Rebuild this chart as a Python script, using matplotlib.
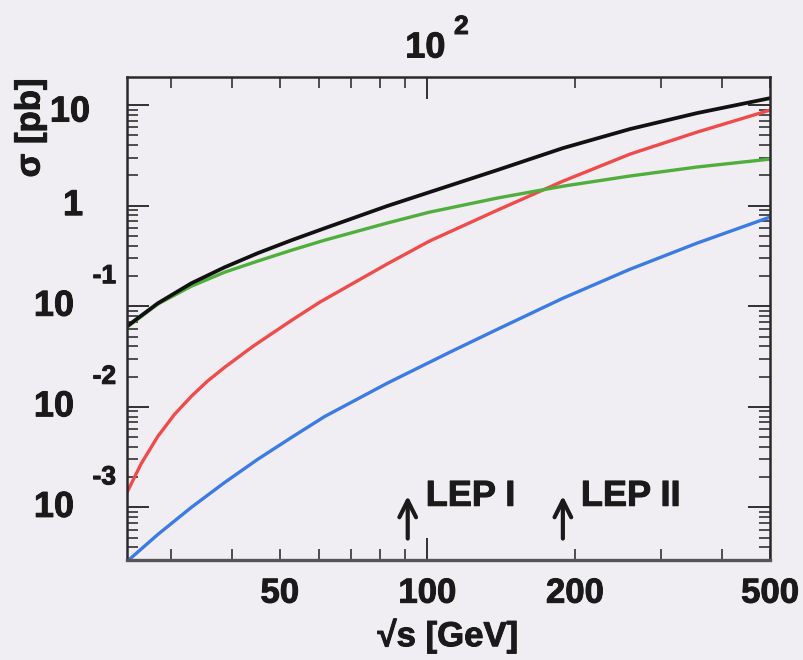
import matplotlib
matplotlib.use("Agg")
from matplotlib import pyplot as plt
from matplotlib import ticker
from matplotlib import patheffects
import matplotlib.transforms as mtransforms

# energias (GeV) e secoes de choque (pb), uma lista por curva
x_black = [24.4, 28.2, 33.0, 38.6, 45.1, 52.9, 61.8, 82.7, 101, 139, 189, 259, 355, 500]
sigma_black = [0.0632, 0.107, 0.169, 0.244, 0.337, 0.454, 0.597, 0.989, 1.36, 2.26, 3.73, 5.77, 8.32, 11.7]

x_green = [24.4, 28.2, 33.0, 38.6, 45.1, 52.9, 61.8, 82.7, 101, 139, 189, 259, 355, 500]
sigma_green = [0.0618, 0.105, 0.158, 0.218, 0.281, 0.361, 0.454, 0.670, 0.861, 1.19, 1.56, 1.97, 2.42, 2.90]

x_red = [24.4, 26.1, 28.2, 30.5, 33.0, 35.6, 38.6, 44.1, 52.9, 60.4, 82.7, 101, 139, 189, 259, 355, 500]
sigma_red = [1.41e-3, 2.74e-3, 5.08e-3, 8.41e-3, 0.0127, 0.0180, 0.0247, 0.0400, 0.0726, 0.110,
             0.262, 0.444, 0.902, 1.75, 3.25, 5.38, 8.9]

x_blue = [24.4, 28.2, 33.0, 38.6, 45.1, 52.9, 61.8, 82.7, 111, 139, 189, 259, 355, 500]
sigma_blue = [2.90e-4, 5.38e-4, 1.0e-3, 1.77e-3, 3.01e-3, 4.98e-3, 8.03e-3, 0.0171, 0.0348,
              0.0590, 0.120, 0.233, 0.424, 0.769]

# marcas LEP
lep_energies = [91.2, 189]
lep_labels = ["LEP I", "LEP II"]

# rotulos dos eixos
x_label_ticks = [50, 100, 200, 500]
y_decades = [10, 1, 0.1, 0.01, 0.001]
y_base = ["10", "1", "10", "10", "10"]
y_exp = ["", "", "-1", "-2", "-3"]

bg = "#f0eef2"
fonte = "Liberation Sans"
cor_texto = "#1a1a1a"
grosso = [patheffects.withStroke(linewidth=0.7, foreground=cor_texto)]

fig = plt.figure(figsize=(8.04, 6.6), dpi=100, facecolor=bg)
ax = fig.add_axes([127/804, 1-560/660, (770-127)/804, (560-77)/660])
ax.set_facecolor(bg)

ax.plot(x_blue, sigma_blue, color="#3c7be6", linewidth=2.4)
ax.plot(x_red, sigma_red, color="#f04b4b", linewidth=2.4)
ax.plot(x_green, sigma_green, color="#4fae3c", linewidth=2.4)
ax.plot(x_black, sigma_black, color="#111111", linewidth=2.7)

ax.set_xscale("log")
ax.set_yscale("log")
ax.set_xlim(24.4, 500)
ax.set_ylim(3e-4, 19)

# ticks para dentro, em todos os lados
ax.tick_params(which="both", direction="in", top=True, right=True, colors="#222222")
ax.tick_params(which="major", length=16, width=1.3)
ax.tick_params(which="minor", length=8, width=1.1)
ax.xaxis.set_minor_locator(ticker.LogLocator(base=10, subs=range(2, 10)))
ax.yaxis.set_minor_locator(ticker.LogLocator(base=10, subs=range(2, 10), numticks=20))


def rotulo_x(v, pos):
    if int(round(v)) in x_label_ticks:
        return str(int(round(v)))
    return ""


ax.xaxis.set_major_formatter(ticker.FuncFormatter(rotulo_x))
ax.xaxis.set_minor_formatter(ticker.FuncFormatter(rotulo_x))
ax.tick_params(axis="x", which="both", labelsize=25, pad=12, labelcolor=cor_texto)
for lab in ax.xaxis.get_majorticklabels() + ax.xaxis.get_minorticklabels():
    lab.set_fontweight("bold")
    lab.set_fontfamily(fonte)
    lab.set_path_effects(grosso)

ax.yaxis.set_major_formatter(ticker.NullFormatter())
ax.yaxis.set_minor_formatter(ticker.NullFormatter())

for s in ax.spines.values():
    s.set_linewidth(1.8)
    s.set_color("#2a2a2a")
ax.spines["bottom"].set_color("#555555")
ax.spines["bottom"].set_linewidth(2.4)

estilo = dict(fontweight="bold", family=fonte, color=cor_texto, path_effects=grosso)

# rotulos do eixo y no estilo ROOT (base e expoente separados)
trans_y = mtransforms.blended_transform_factory(ax.transAxes, ax.transData)
for val, base, ex in zip(y_decades, y_base, y_exp):
    if ex == "":
        dx = -37 if base == "10" else -44
        dy = -7 if base == "10" else 0
        ax.annotate(base, xy=(0, val), xycoords=trans_y, xytext=(dx, dy),
                    textcoords="offset pixels", ha="right", va="center",
                    fontsize=26, **estilo)
    else:
        ax.annotate(base, xy=(0, val), xycoords=trans_y, xytext=(-53, 0),
                    textcoords="offset pixels", ha="right", va="center",
                    fontsize=26, **estilo)
        ax.annotate(ex, xy=(0, val), xycoords=trans_y, xytext=(-11, 30),
                    textcoords="offset pixels", ha="right", va="center",
                    fontsize=19, **estilo)

# rotulo 10^2 no eixo de cima
trans_x = mtransforms.blended_transform_factory(ax.transData, ax.transAxes)
ax.annotate("10", xy=(100, 1), xycoords=trans_x, xytext=(-2, 29),
            textcoords="offset pixels", ha="center", va="center",
            fontsize=26, **estilo)
ax.annotate("2", xy=(100, 1), xycoords=trans_x, xytext=(34, 50),
            textcoords="offset pixels", ha="center", va="center",
            fontsize=19, **estilo)

# setas LEP
for e, nome in zip(lep_energies, lep_labels):
    ax.annotate("", xy=(e, 1.3e-3), xytext=(e, 4.9e-4),
                arrowprops=dict(arrowstyle="->", lw=3, color=cor_texto,
                                mutation_scale=30, shrinkA=0, shrinkB=0))
    ax.annotate(nome, xy=(e, 1.29e-3), xytext=(18, 0), textcoords="offset pixels",
                ha="left", va="center", fontsize=26, **estilo)

# titulos dos eixos
fig.text(448/804, 1-636/660, "√s [GeV]", ha="center", va="center",
         fontsize=25, **estilo)
fig.text(30/804, 1-128/660, "σ [pb]", ha="center", va="center", rotation=90,
         fontsize=25, **estilo)

plt.savefig("out.png", dpi=100, facecolor=bg)
plt.close()
